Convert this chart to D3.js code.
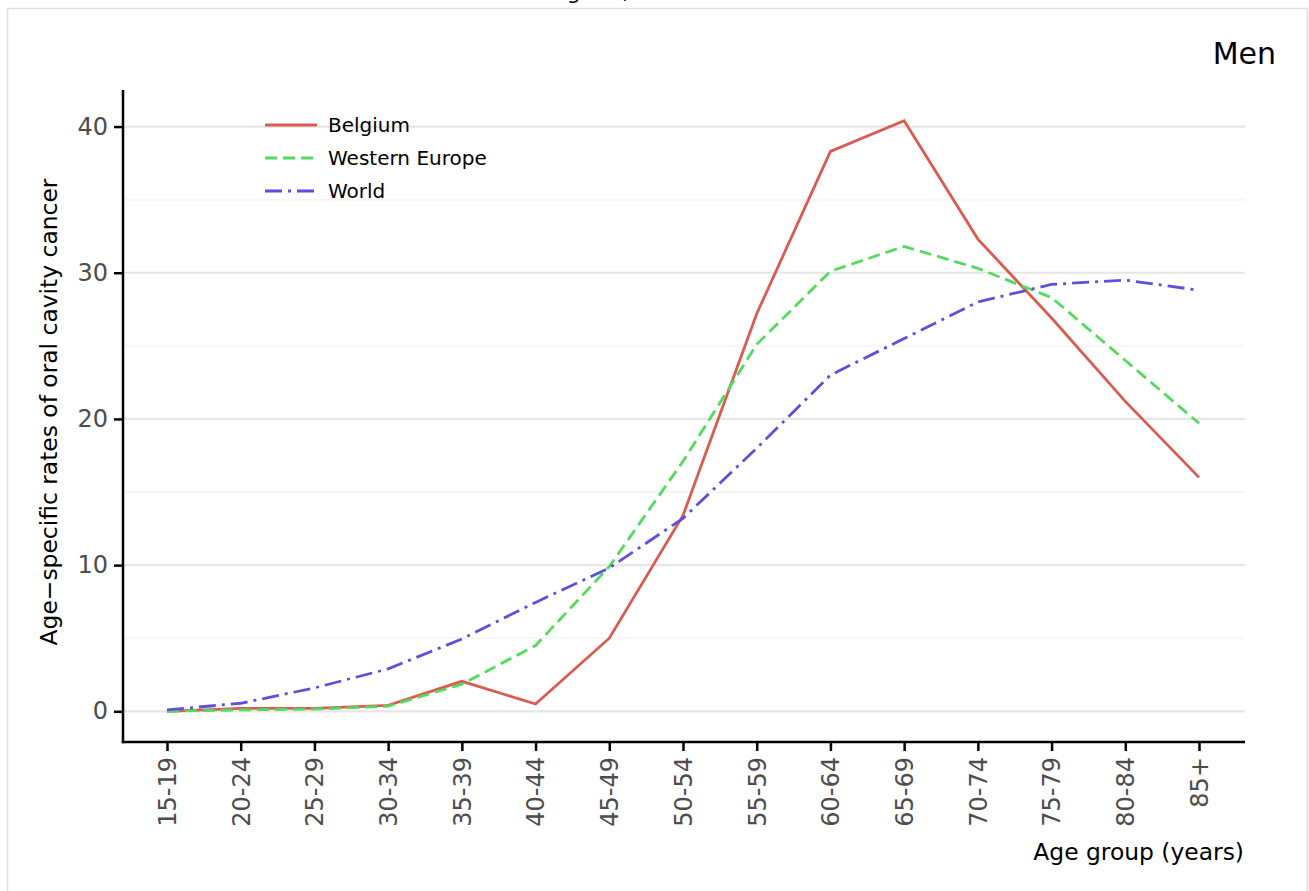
<!DOCTYPE html>
<html>
<head>
<meta charset="utf-8">
<script src="https://cdn.jsdelivr.net/npm/d3@7"></script>
<style>
  html, body { margin: 0; padding: 0; background: #fff; }
  svg { display: block; font-family: "DejaVu Sans", sans-serif; }
</style>
</head>
<body>
<svg id="chart" width="1309" height="891"></svg>
<script>
// ---- data ----
const ageGroups = ["15-19","20-24","25-29","30-34","35-39","40-44","45-49","50-54","55-59","60-64","65-69","70-74","75-79","80-84","85+"];
const belgium = [0.0, 0.2, 0.2, 0.4, 2.05, 0.5, 5.0, 13.4, 27.2, 38.3, 40.4, 32.3, 26.9, 21.2, 16.0];
const westernEurope = [0.0, 0.1, 0.15, 0.35, 1.85, 4.5, 9.9, 17.1, 25.1, 30.1, 31.8, 30.3, 28.3, 24.0, 19.7];
const world = [0.1, 0.55, 1.6, 2.9, 4.95, 7.45, 9.8, 13.2, 18.0, 23.0, 25.5, 28.0, 29.2, 29.5, 28.8];
const seriesNames = ["Belgium", "Western Europe", "World"];
const yTicks = [0, 10, 20, 30, 40];
const yMinorTicks = [5, 15, 25, 35];
const panelLabel = "Men";
const xTitle = "Age group (years)";
const yTitle = "Age\u2212specific rates of oral cavity cancer";

const series = [
  { name: seriesNames[0], values: belgium, color: "#db5b51", dash: null },
  { name: seriesNames[1], values: westernEurope, color: "#52db5c", dash: "12,6" },
  { name: seriesNames[2], values: world, color: "#5b51db", dash: "17,6,3,6" }
];

const svg = d3.select("#chart");

// outer frame
svg.append("rect").attr("x", 7.5).attr("y", 8.5).attr("width", 1300).attr("height", 900)
  .attr("fill", "#fff").attr("stroke", "#e0e0e0").attr("stroke-width", 1.5);

// cut-off title fragment
svg.append("text").attr("x", 532).attr("y", -1)
  .attr("font-size", 22).attr("fill", "#000").text("Belgium,");

const pLeft = 123, pRight = 1245, pTop = 90, pBottom = 742;
const x = d3.scalePoint().domain(ageGroups).range([167, 1199]);
const y = d3.scaleLinear().domain([-2.1, 42.5]).range([pBottom, pTop]);

// grid
svg.append("g").selectAll("line").data(yMinorTicks).join("line")
  .attr("x1", pLeft).attr("x2", pRight)
  .attr("y1", d => y(d)).attr("y2", d => y(d))
  .attr("stroke", "#f6f6f6").attr("stroke-width", 2);
svg.append("g").selectAll("line").data(yTicks).join("line")
  .attr("x1", pLeft).attr("x2", pRight)
  .attr("y1", d => y(d)).attr("y2", d => y(d))
  .attr("stroke", "#e6e6e6").attr("stroke-width", 2.2);

// axes
const yAxis = svg.append("g").attr("transform", `translate(${pLeft},0)`)
  .call(d3.axisLeft(y).tickValues(yTicks).tickSize(9).tickPadding(6).tickFormat(d3.format("d")));
const xAxis = svg.append("g").attr("transform", `translate(0,${pBottom})`)
  .call(d3.axisBottom(x).tickSize(9).tickPadding(6));
[yAxis, xAxis].forEach(g => {
  g.select(".domain").remove();
  g.selectAll(".tick line").attr("stroke", "#000").attr("stroke-width", 2.5);
  g.selectAll(".tick text").attr("fill", "#4d4d4d").attr("font-size", 24)
    .attr("font-family", "DejaVu Sans, sans-serif");
});
xAxis.selectAll(".tick text")
  .attr("transform", "rotate(-90)")
  .attr("text-anchor", "end")
  .attr("x", -15).attr("y", 0).attr("dy", "0.35em");

svg.append("line").attr("x1", pLeft).attr("x2", pLeft).attr("y1", pTop).attr("y2", pBottom + 1.2)
  .attr("stroke", "#000").attr("stroke-width", 2.5);
svg.append("line").attr("x1", pLeft - 1.2).attr("x2", pRight).attr("y1", pBottom).attr("y2", pBottom)
  .attr("stroke", "#000").attr("stroke-width", 2.5);

// lines
const line = d3.line().x((d, i) => x(ageGroups[i])).y(d => y(d));
svg.append("g").selectAll("path").data(series).join("path")
  .attr("d", d => line(d.values))
  .attr("fill", "none").attr("stroke", d => d.color).attr("stroke-width", 2.8)
  .attr("stroke-dasharray", d => d.dash);

// legend
const lg = svg.append("g");
series.forEach((s, i) => {
  const ly = 125 + i * 33;
  lg.append("line").attr("x1", 265).attr("x2", 317).attr("y1", ly).attr("y2", ly)
    .attr("stroke", s.color).attr("stroke-width", 2.8).attr("stroke-dasharray", s.dash);
  lg.append("text").attr("x", 328).attr("y", ly).attr("dy", "0.35em")
    .attr("font-size", 20).attr("fill", "#000").text(s.name);
});

// labels
svg.append("text").attr("x", 1276).attr("y", 64).attr("text-anchor", "end")
  .attr("font-size", 30).attr("fill", "#000").text(panelLabel);
svg.append("text").attr("x", 1244).attr("y", 860).attr("text-anchor", "end")
  .attr("font-size", 23.4).attr("fill", "#000").text(xTitle);
svg.append("text").attr("transform", `translate(57,412) rotate(-90)`)
  .attr("text-anchor", "middle").attr("font-size", 23.4).attr("fill", "#000").text(yTitle);
</script>
</body>
</html>
